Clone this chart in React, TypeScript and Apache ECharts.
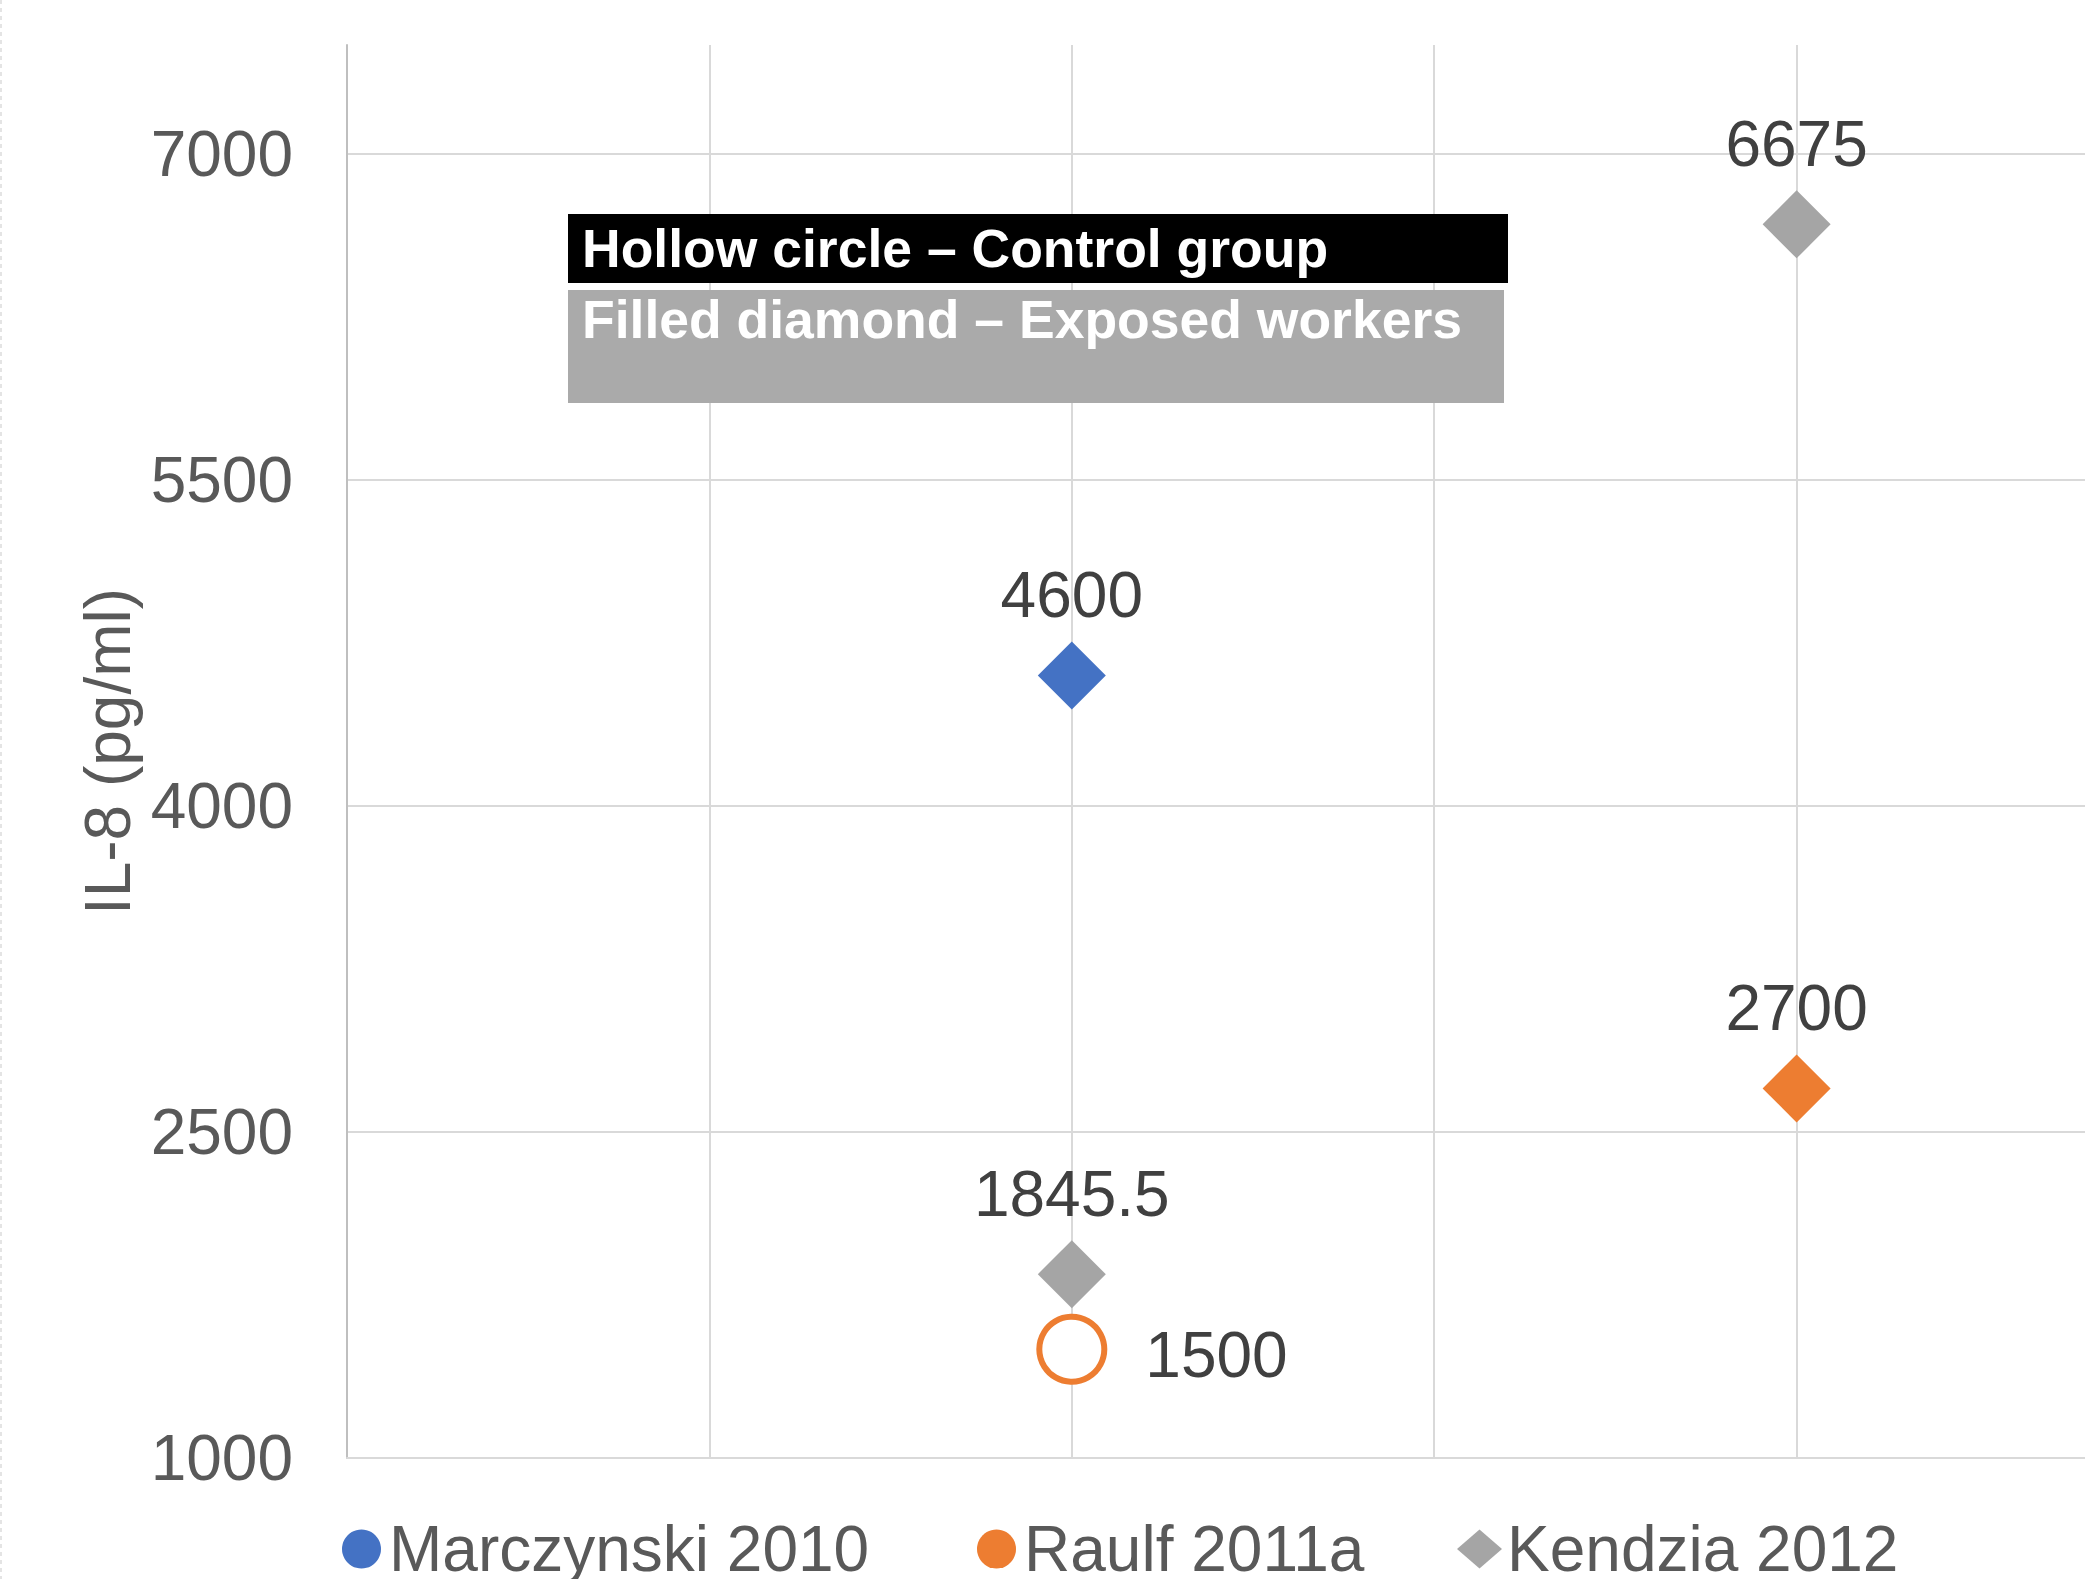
import React, { useEffect, useRef } from "react";
import * as echarts from "echarts";

// ---- data ----
const studies = ["Marczynski 2010", "Raulf 2011a", "Kendzia 2012"];
const studyColors = ["#4472C4", "#ED7D31", "#A5A5A5"];
const legendIcons = ["circle", "circle", "diamond"];

// exposed workers (filled diamond): [x, IL-8 pg/ml]
const marczynskiExposed = [[2, 4600]];
const raulfExposed = [[4, 2700]];
const kendziaExposed = [
  [2, 1845.5],
  [4, 6675],
];
// control group (hollow circle)
const raulfControl = [[2, 1500]];

const yTicks = { min: 1000, max: 7500, interval: 1500 };
const xRange = { min: 0, max: 5, interval: 1 };

const yAxisTitle = "IL-8 (pg/ml)";
const noteLine1 = "Hollow circle – Control group";
const noteLine2 = "Filled diamond – Exposed workers";

const FONT = "'Liberation Sans', Arial, Helvetica, sans-serif";

export default function App() {
  const ref = useRef<HTMLDivElement>(null);

  useEffect(() => {
    document.body.style.margin = "0";
    if (!ref.current) return;
    const chart = echarts.init(ref.current, null, { renderer: "svg" });

    const labelTop = {
      show: true,
      position: "top",
      distance: 14,
      fontSize: 64,
      color: "#404040",
      fontFamily: FONT,
    };

    const exposedSeries = (name: string, data: number[][], color: string) => ({
      name,
      type: "scatter",
      data,
      symbol: "diamond",
      symbolSize: 68,
      itemStyle: { color, opacity: 1 },
      label: labelTop,
      z: 3,
    });

    const legendAt = (i: number, left: number) => ({
      show: true,
      left,
      top: 1512,
      itemWidth: 45,
      itemHeight: 39,
      selectedMode: false,
      textStyle: { fontSize: 64, color: "#595959", fontFamily: FONT },
      data: [
        {
          name: studies[i],
          icon: legendIcons[i],
          itemStyle: { color: studyColors[i], borderWidth: 0 },
        },
      ],
    });

    chart.setOption({
      animation: false,
      backgroundColor: "#ffffff",
      textStyle: { fontFamily: FONT },
      grid: {
        left: 347,
        top: 45,
        bottom: 121,
        right: -74,
        containLabel: false,
        outerBoundsMode: "none",
      },
      xAxis: {
        type: "value",
        min: xRange.min,
        max: xRange.max,
        interval: xRange.interval,
        axisLabel: { show: false },
        axisTick: { show: false },
        axisLine: { show: true, lineStyle: { color: "#D9D9D9", width: 2 } },
        splitLine: {
          show: true,
          showMinLine: false,
          showMaxLine: false,
          lineStyle: { color: "#D9D9D9", width: 2 },
        },
      },
      yAxis: {
        type: "value",
        min: yTicks.min,
        max: yTicks.max,
        interval: yTicks.interval,
        name: yAxisTitle,
        nameLocation: "middle",
        nameRotate: 90,
        nameGap: 193,
        nameTextStyle: { fontSize: 64, color: "#595959", fontFamily: FONT },
        axisLine: { show: true, lineStyle: { color: "#BFBFBF", width: 2 } },
        axisTick: { show: false },
        axisLabel: {
          fontSize: 64,
          color: "#595959",
          margin: 54,
          fontFamily: FONT,
          showMaxLabel: false,
          formatter: (v: number) => String(v),
        },
        splitLine: {
          show: true,
          showMinLine: false,
          showMaxLine: false,
          lineStyle: { color: "#D9D9D9", width: 2 },
        },
      },
      legend: [legendAt(0, 337), legendAt(1, 972), legendAt(2, 1452)],
      series: [
        exposedSeries(studies[0], marczynskiExposed, studyColors[0]),
        exposedSeries(studies[1], raulfExposed, studyColors[1]),
        exposedSeries(studies[2], kendziaExposed, studyColors[2]),
        {
          name: studies[1] + " control",
          type: "scatter",
          data: raulfControl,
          symbol: "circle",
          symbolSize: 65,
          itemStyle: {
            color: "#ffffff",
            borderColor: studyColors[1],
            borderWidth: 6,
            opacity: 1,
          },
          label: {
            show: true,
            position: "right",
            distance: 38,
            offset: [0, 6],
            fontSize: 64,
            color: "#404040",
            fontFamily: FONT,
          },
          z: 3,
        },
      ],
      graphic: [
        {
          type: "line",
          shape: { x1: 1, y1: 0, x2: 1, y2: 1579 },
          style: { stroke: "#E4E4E4", lineWidth: 2, lineDash: [4, 4] },
        },
        {
          type: "rect",
          shape: { x: 568, y: 214, width: 940, height: 69 },
          style: { fill: "#000000" },
          z: 10,
        },
        {
          type: "rect",
          shape: { x: 568, y: 290, width: 936, height: 113 },
          style: { fill: "#AAAAAA" },
          z: 10,
        },
        {
          type: "text",
          x: 582,
          y: 248,
          style: {
            text: noteLine1,
            fill: "#ffffff",
            fontSize: 53.5,
            fontWeight: "bold",
            fontFamily: FONT,
            verticalAlign: "middle",
            align: "left",
          },
          z: 11,
        },
        {
          type: "text",
          x: 582,
          y: 319,
          style: {
            text: noteLine2,
            fill: "#ffffff",
            fontSize: 53.5,
            fontWeight: "bold",
            fontFamily: FONT,
            verticalAlign: "middle",
            align: "left",
          },
          z: 11,
        },
      ],
    });

    return () => chart.dispose();
  }, []);

  return <div ref={ref} style={{ width: 2085, height: 1579 }} />;
}
